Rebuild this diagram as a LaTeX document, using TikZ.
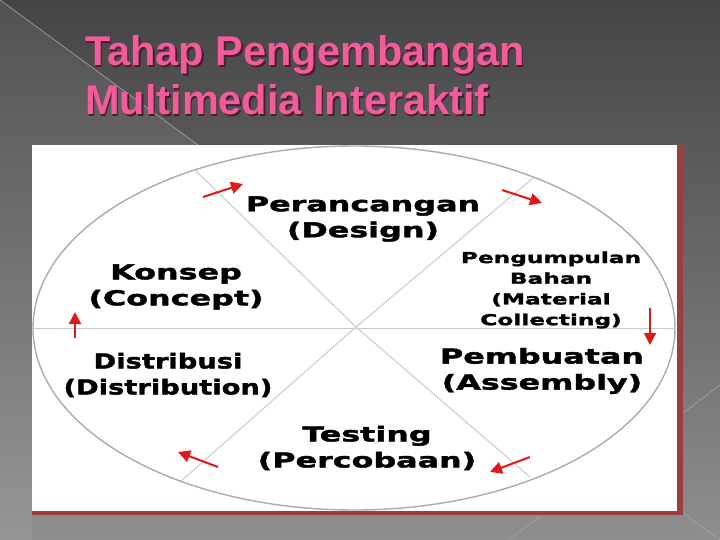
\documentclass[tikz,border=0pt]{standalone}
\usepackage{fontspec}
\usetikzlibrary{arrows.meta}
\newfontfamily\titlefont{Liberation Sans}
\newfontfamily\lblfont{DejaVu Sans}[FakeStretch=1.55,FakeBold=2]
\definecolor{bgtop}{HTML}{454545}
\definecolor{bgbot}{HTML}{8E8E8E}
\definecolor{titlepink}{HTML}{F25C9B}
\definecolor{titleshadow}{HTML}{4A1E30}
\definecolor{framered}{HTML}{9A3E3E}
\definecolor{ringgray}{HTML}{ABABAB}
\definecolor{spokegray}{HTML}{CACACA}
\definecolor{arrowred}{HTML}{E01818}
\newcommand\narrowline[1]{\scalebox{0.86}[1]{#1}}
\begin{document}
\begin{tikzpicture}[x=1pt,y=-1pt,
  lbl/.style={font=\lblfont\bfseries\fontsize{20.5}{26}\selectfont, align=center, inner sep=0pt},
  lblsmall/.style={font=\lblfont\bfseries\fontsize{15}{20.7}\selectfont, align=center, inner sep=0pt},
  flow/.style={draw=arrowred, line width=2pt, -{Triangle[length=12pt,width=12pt,fill=arrowred]}},
  facet/.style={draw=gray!70, line width=0.6pt},
  ttl/.style={font=\titlefont\bfseries\fontsize{41.5}{47}\selectfont, anchor=base west, inner sep=0pt},
  ring/.style={draw=ringgray, line width=1.4pt},
  spoke/.style={draw=spokegray, line width=1pt}]
\useasboundingbox (0,0) rectangle (720,540);
% background
\shade[top color=bgtop, bottom color=bgbot] (0,0) rectangle (720,540);
\fill[white, opacity=0.07] (0,0) -- (198,145) -- (32,145) -- (32,540) -- (0,540) -- cycle;
\draw[facet] (0,0) -- (198,145);
\draw[facet] (683,413) -- (720,385);
\draw[facet] (683,513) -- (720,540);
\draw[facet] (508,540) -- (540,517);
% title
\node[ttl, text=titleshadow] at (86.5,67.5) {Tahap Pengembangan};
\node[ttl, text=titleshadow] at (86.5,116.5) {Multimedia Interaktif};
\node[ttl, text=titlepink] (t1) at (85,66) {Tahap Pengembangan};
\node[ttl, text=titlepink] (t2) at (85,115) {Multimedia Interaktif};
% panel
\fill[white] (32,145) rectangle (680,513);
\fill[framered] (677,145) rectangle (683,515);
\fill[framered] (32,511) rectangle (683,515);
% circle
\coordinate (c) at (356,327);
\coordinate (ul) at (195,170);
\coordinate (ur) at (533,178);
\coordinate (ll) at (180,482);
\coordinate (lr) at (530,477);
\coordinate (hl) at (33,328);
\coordinate (hr) at (675,328);
\draw[spoke] (hl) -- (hr);
\draw[spoke] (c) -- (ul);
\draw[spoke] (c) -- (ur);
\draw[spoke] (c) -- (ll);
\draw[spoke] (c) -- (lr);
\draw[ring] (354,328) ellipse [x radius=321pt, y radius=182pt];
% labels
\node[lbl] (design) at (363,219) {Perancangan\\(Design)};
\node[lbl] (konsep) at (176,287) {Konsep\\(Concept)};
\node[lblsmall] (bahan) at (551,290) {Pengumpulan\\Bahan\\(Material\\Collecting)};
\node[lbl] (buat) at (542,371) {Pembuatan\\(Assembly)};
\node[lbl] (test) at (367,448) {Testing\\(Percobaan)};
\node[lbl] (dist) at (168,375) {\narrowline{Distribusi}\\\narrowline{(Distribution)}};
% arrows
\coordinate (a1s) at (203,197); \coordinate (a1e) at (243,184);
\coordinate (a2s) at (502,190); \coordinate (a2e) at (542,203);
\coordinate (a3s) at (650,308); \coordinate (a3e) at (650,345);
\coordinate (a4s) at (530,457); \coordinate (a4e) at (490,472);
\coordinate (a5s) at (218,467); \coordinate (a5e) at (178,452);
\coordinate (a6s) at (75,338); \coordinate (a6e) at (75,312);
\draw[flow] (a1s) -- (a1e);
\draw[flow] (a2s) -- (a2e);
\draw[flow] (a3s) -- (a3e);
\draw[flow] (a4s) -- (a4e);
\draw[flow] (a5s) -- (a5e);
\draw[flow] (a6s) -- (a6e);
\end{tikzpicture}
\end{document}
